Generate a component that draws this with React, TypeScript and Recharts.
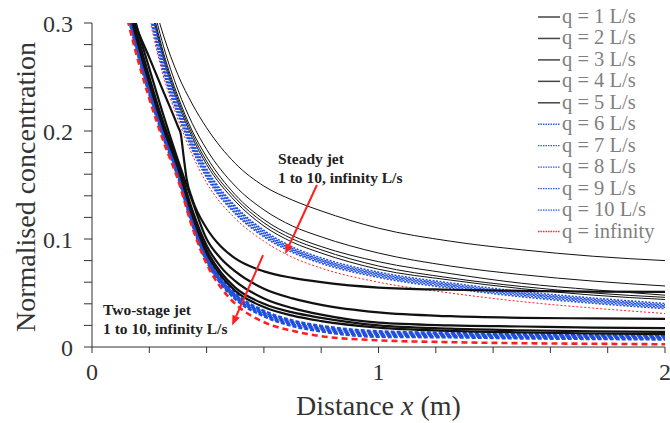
import React from 'react';
import { LineChart, Line, XAxis, YAxis, Legend, ReferenceLine } from 'recharts';

// ---------- axis ticks ----------
const X_TICKS = [0, 0.2, 0.4, 0.6, 0.8, 1, 1.2, 1.4, 1.6, 1.8, 2];
const X_LABELED = [0, 1, 2];
const Y_TICKS = [0, 0.02, 0.04, 0.06, 0.08, 0.1, 0.12, 0.14, 0.16, 0.18, 0.2, 0.22, 0.24, 0.26, 0.28, 0.3];
const Y_LABELED = [0, 0.1, 0.2, 0.3];

// ---------- legend labels ----------
const LEGEND_NAMES = [
  'q = 1 L/s', 'q = 2 L/s', 'q = 3 L/s', 'q = 4 L/s', 'q = 5 L/s',
  'q = 6 L/s', 'q = 7 L/s', 'q = 8 L/s', 'q = 9 L/s', 'q = 10 L/s', 'q = infinity',
];

// ---------- steady jet ----------
const STEADY_X = [0.2, 0.25, 0.3, 0.35, 0.4, 0.5, 0.6, 0.7, 0.8, 1.0, 1.25, 1.5, 1.75, 2.0];
const steadyQ1 = [0.335, 0.288, 0.252, 0.225, 0.203, 0.170, 0.149, 0.136, 0.126, 0.110, 0.098, 0.090, 0.084, 0.080];
const steadyQ2 = [0.330, 0.278, 0.238, 0.207, 0.183, 0.149, 0.127, 0.112, 0.102, 0.087, 0.075, 0.067, 0.061, 0.0565];
const steadyQ3 = [0.325, 0.272, 0.232, 0.200, 0.176, 0.141, 0.118, 0.103, 0.093, 0.079, 0.068, 0.059, 0.053, 0.048];
const steadyQ4 = [0.322, 0.269, 0.229, 0.197, 0.172, 0.138, 0.115, 0.100, 0.090, 0.075, 0.064, 0.056, 0.050, 0.046];
const steadyQ5 = [0.320, 0.266, 0.226, 0.194, 0.169, 0.135, 0.112, 0.097, 0.087, 0.072, 0.062, 0.054, 0.048, 0.044];
const steadyQ6 = [0.321, 0.266, 0.225, 0.1915, 0.165, 0.1305, 0.108, 0.0925, 0.0825, 0.0693, 0.0593, 0.0513, 0.0453, 0.0403];
const steadyQ7 = [0.318, 0.263, 0.2225, 0.189, 0.163, 0.129, 0.1065, 0.091, 0.081, 0.068, 0.058, 0.050, 0.044, 0.039];
const steadyQ8 = [0.315, 0.260, 0.220, 0.187, 0.161, 0.127, 0.105, 0.090, 0.080, 0.067, 0.057, 0.049, 0.043, 0.038];
const steadyQ9 = [0.312, 0.257, 0.2175, 0.185, 0.159, 0.125, 0.1035, 0.0888, 0.0788, 0.0658, 0.0558, 0.0478, 0.0418, 0.0368];
const steadyQ10 = [0.309, 0.254, 0.215, 0.1825, 0.157, 0.1235, 0.102, 0.0875, 0.0775, 0.0645, 0.0545, 0.0465, 0.0405, 0.0355];
const steadyInf = [0.305, 0.250, 0.211, 0.178, 0.152, 0.119, 0.098, 0.083, 0.073, 0.060, 0.050, 0.042, 0.036, 0.031];

// ---------- two-stage jet ----------
const TWO_X = [0.1, 0.15, 0.2, 0.25, 0.3, 0.35, 0.4, 0.45, 0.5, 0.6, 0.7, 0.8, 1.0, 1.25, 1.5, 1.75, 2.0];
const TWO_X_Q1 = [0.1, 0.15, 0.2, 0.25, 0.3, 0.31, 0.32, 0.33, 0.35, 0.4, 0.45, 0.5, 0.6, 0.7, 0.8, 1.0, 1.25, 1.5, 1.75, 2.0];
const twoQ1 = [0.345, 0.300, 0.268, 0.236, 0.204, 0.197, 0.176, 0.156, 0.137, 0.110, 0.093, 0.082, 0.070, 0.064, 0.060, 0.055, 0.053, 0.052, 0.0512, 0.051];
const twoQ2 = [0.358, 0.303, 0.258, 0.214, 0.173, 0.135, 0.100, 0.082, 0.070, 0.054, 0.045, 0.039, 0.032, 0.0285, 0.027, 0.0265, 0.026];
const twoQ3 = [0.354, 0.298, 0.250, 0.207, 0.170, 0.127, 0.094, 0.074, 0.061, 0.045, 0.036, 0.030, 0.0225, 0.020, 0.019, 0.018, 0.0175];
const twoQ4 = [0.350, 0.294, 0.247, 0.204, 0.168, 0.124, 0.090, 0.069, 0.055, 0.040, 0.032, 0.027, 0.020, 0.017, 0.0155, 0.0145, 0.014];
const twoQ5 = [0.347, 0.291, 0.244, 0.202, 0.166, 0.122, 0.087, 0.066, 0.052, 0.037, 0.029, 0.024, 0.018, 0.015, 0.0135, 0.0125, 0.012];
const twoQ6 = [0.344, 0.289, 0.242, 0.2005, 0.1645, 0.1185, 0.0845, 0.0635, 0.0495, 0.0335, 0.0245, 0.0195, 0.0145, 0.013, 0.012, 0.0115, 0.011];
const twoQ7 = [0.342, 0.287, 0.240, 0.1988, 0.1628, 0.1172, 0.0832, 0.0622, 0.0482, 0.0322, 0.0232, 0.0182, 0.0132, 0.012, 0.011, 0.0105, 0.010];
const twoQ8 = [0.340, 0.285, 0.238, 0.197, 0.161, 0.116, 0.082, 0.061, 0.047, 0.031, 0.022, 0.017, 0.012, 0.011, 0.010, 0.0095, 0.009];
const twoQ9 = [0.338, 0.283, 0.236, 0.1953, 0.1593, 0.1148, 0.0808, 0.0598, 0.0458, 0.0298, 0.0208, 0.0158, 0.0108, 0.010, 0.009, 0.0085, 0.008];
const twoQ10 = [0.336, 0.281, 0.234, 0.1935, 0.1575, 0.1135, 0.0795, 0.0585, 0.0445, 0.0285, 0.0195, 0.0145, 0.0095, 0.009, 0.008, 0.0075, 0.007];
const twoInf = [0.330, 0.276, 0.230, 0.190, 0.155, 0.111, 0.077, 0.055, 0.040, 0.023, 0.015, 0.010, 0.0062, 0.0045, 0.0035, 0.003, 0.0025];

// ---------- annotation arrows (data coords) ----------
const STEADY_ARROW = [{ x: 0.785, y: 0.150 }, { x: 0.674, y: 0.086 }];
const TWO_ARROW = [{ x: 0.597, y: 0.085 }, { x: 0.489, y: 0.020 }];

const SERIF = '"Liberation Serif", "Times New Roman", Times, serif';
const BLACK = '#111111';
const BLUE = '#1f4fe0';
const RED = '#ff1f1f';

const toPts = (xs: number[], ys: number[]) => xs.map((x, i) => ({ x, y: ys[i] }));

type S = { name: string; data: { x: number; y: number }[]; color: string; width: number; dash?: string };

const STEADY_STYLE = [
  { c: BLACK, w: 1, d: undefined },
  { c: BLACK, w: 1, d: undefined },
  { c: BLACK, w: 1, d: undefined },
  { c: BLACK, w: 1, d: undefined },
  { c: BLACK, w: 1, d: undefined },
  { c: BLUE, w: 1.6, d: '2 1.5' },
  { c: BLUE, w: 1.6, d: '2 1.5' },
  { c: BLUE, w: 1.6, d: '2 1.5' },
  { c: BLUE, w: 1.6, d: '2 1.5' },
  { c: BLUE, w: 1.6, d: '2 1.5' },
  { c: RED, w: 1, d: '2 2' },
];
const TWO_STYLE = [
  { c: BLACK, w: 2.2, d: undefined },
  { c: BLACK, w: 2.2, d: undefined },
  { c: BLACK, w: 2.2, d: undefined },
  { c: BLACK, w: 2.2, d: undefined },
  { c: BLACK, w: 2.2, d: undefined },
  { c: BLUE, w: 2.6, d: '4 2' },
  { c: BLUE, w: 2.6, d: '4 2' },
  { c: BLUE, w: 2.6, d: '4 2' },
  { c: BLUE, w: 2.6, d: '4 2' },
  { c: BLUE, w: 2.6, d: '4 2' },
  { c: RED, w: 2.6, d: '6 4' },
];

const steadyValues = [steadyQ1, steadyQ2, steadyQ3, steadyQ4, steadyQ5, steadyQ6, steadyQ7, steadyQ8, steadyQ9, steadyQ10, steadyInf];
const twoValues = [twoQ1, twoQ2, twoQ3, twoQ4, twoQ5, twoQ6, twoQ7, twoQ8, twoQ9, twoQ10, twoInf];

const steadySeries: S[] = steadyValues.map((v, i) => ({
  name: LEGEND_NAMES[i],
  data: toPts(STEADY_X, v),
  color: STEADY_STYLE[i].c,
  width: STEADY_STYLE[i].w,
  dash: STEADY_STYLE[i].d,
}));

const twoSeries: S[] = twoValues.map((v, i) => ({
  name: 'Two-stage ' + LEGEND_NAMES[i],
  data: toPts(i === 0 ? TWO_X_Q1 : TWO_X, v),
  color: TWO_STYLE[i].c,
  width: TWO_STYLE[i].w,
  dash: TWO_STYLE[i].d,
}));

// z-order: two-stage blue/red under black
const twoOrdered = [...twoSeries.slice(5), ...twoSeries.slice(0, 5)];

const legendSample = (i: number) =>
  i < 5 ? { c: '#444444', w: 1.5, d: undefined } : i < 10 ? { c: '#2f5be8', w: 1.3, d: '1.5 1' } : { c: '#ff2a2a', w: 1.5, d: '1.5 1' };

const renderLegend = (props: any) => {
  const payload = (props.payload || []).filter((p: any) => LEGEND_NAMES.indexOf(p.value) >= 0);
  payload.sort((a: any, b: any) => LEGEND_NAMES.indexOf(a.value) - LEGEND_NAMES.indexOf(b.value));
  return (
    <svg width={135} height={245} style={{ display: 'block' }}>
      {payload.map((entry: any, i: number) => {
        const s = legendSample(LEGEND_NAMES.indexOf(entry.value));
        const yb = 23 + i * 21.45;
        return (
          <g key={entry.value}>
            <line x1={1} x2={23} y1={yb - 6} y2={yb - 6} stroke={s.c} strokeWidth={s.w} strokeDasharray={s.d} />
            <text x={25} y={yb} fontSize={20.5} fontFamily={SERIF} fill="#7f7f7f">
              {entry.value}
            </text>
          </g>
        );
      })}
    </svg>
  );
};

const arrowShape = (props: any) => {
  const { x1, y1, x2, y2 } = props;
  if ([x1, y1, x2, y2].some((v) => typeof v !== 'number' || isNaN(v))) return <g />;
  const dx = x2 - x1;
  const dy = y2 - y1;
  const len = Math.sqrt(dx * dx + dy * dy);
  const ux = dx / len;
  const uy = dy / len;
  const hl = 10;
  const hw = 4;
  const bx = x2 - ux * hl;
  const by = y2 - uy * hl;
  const p1 = `${x2},${y2}`;
  const p2 = `${bx - uy * hw},${by + ux * hw}`;
  const p3 = `${bx + uy * hw},${by - ux * hw}`;
  return (
    <g>
      <line x1={x1} y1={y1} x2={bx} y2={by} stroke={RED} strokeWidth={2} />
      <polygon points={`${p1} ${p2} ${p3}`} fill={RED} />
    </g>
  );
};

const xTickFmt = (v: number) => (X_LABELED.some((l) => Math.abs(l - v) < 1e-9) ? String(v) : '');
const yTickFmt = (v: number) =>
  Y_LABELED.some((l) => Math.abs(l - v) < 1e-9) ? (Math.abs(v) < 1e-9 ? '0' : v.toFixed(1)) : '';

const XTitle = (props: any) => {
  const vb = props.viewBox || {};
  const cx = (vb.x || 0) + (vb.width || 0) / 2;
  return (
    <text x={cx} y={415} textAnchor="middle" fontSize={28} fontFamily={SERIF} fill="#333">
      Distance <tspan fontStyle="italic">x</tspan> (m)
    </text>
  );
};

const YTitle = (props: any) => {
  const vb = props.viewBox || {};
  const cy = (vb.y || 0) + (vb.height || 0) / 2 + 2;
  return (
    <text x={35} y={cy} transform={`rotate(-90, 35, ${cy})`} textAnchor="middle" fontSize={28} fontFamily={SERIF} fill="#333">
      Normalised concentration
    </text>
  );
};

export default function App() {
  return (
    <div style={{ position: 'absolute', left: 0, top: 0, width: 670, height: 423, background: '#fff' }}>
      <LineChart width={670} height={423} margin={{ top: 23, right: 5, left: 0, bottom: 0 }}>
        <XAxis
          type="number"
          dataKey="x"
          domain={[0, 2]}
          ticks={X_TICKS}
          tickFormatter={xTickFmt}
          interval={0}
          allowDataOverflow
          height={76}
          tickSize={6}
          tickMargin={10}
          stroke="#333"
          tick={{ fontSize: 24, fontFamily: SERIF, fill: '#333' }}
          label={<XTitle />}
        />
        <YAxis
          type="number"
          domain={[0, 0.3]}
          ticks={Y_TICKS}
          tickFormatter={yTickFmt}
          interval={0}
          allowDataOverflow
          width={92}
          tickSize={8}
          tickMargin={11}
          stroke="#333"
          tick={{ fontSize: 24, fontFamily: SERIF, fill: '#333' }}
          label={<YTitle />}
        />
        <Legend
          layout="vertical"
          align="center"
          verticalAlign="middle"
          content={renderLegend}
          wrapperStyle={{ left: 537, top: 0, width: 135, height: 245 }}
        />
        {steadySeries.map((s) => (
          <Line
            key={s.name}
            name={s.name}
            data={s.data}
            dataKey="y"
            type="monotone"
            stroke={s.color}
            strokeWidth={s.width}
            strokeDasharray={s.dash}
            dot={false}
            activeDot={false}
            isAnimationActive={false}
          />
        ))}
        {twoOrdered.map((s) => (
          <Line
            key={s.name}
            name={s.name}
            data={s.data}
            dataKey="y"
            type="monotone"
            stroke={s.color}
            strokeWidth={s.width}
            strokeDasharray={s.dash}
            dot={false}
            activeDot={false}
            legendType="none"
            isAnimationActive={false}
          />
        ))}
        <ReferenceLine segment={STEADY_ARROW} shape={arrowShape} ifOverflow="visible" />
        <ReferenceLine segment={TWO_ARROW} shape={arrowShape} ifOverflow="visible" />
      </LineChart>
      <svg
        width={670}
        height={423}
        style={{ position: 'absolute', left: 0, top: 0, pointerEvents: 'none' }}
      >
        <g fontFamily={SERIF} fontWeight="bold" fontSize={15.5} fill="#222">
          <text x={278} y={164}>Steady jet</text>
          <text x={278} y={183}>1 to 10, infinity L/s</text>
          <text x={103} y={315}>Two-stage jet</text>
          <text x={103} y={334}>1 to 10, infinity L/s</text>
        </g>
      </svg>
    </div>
  );
}
